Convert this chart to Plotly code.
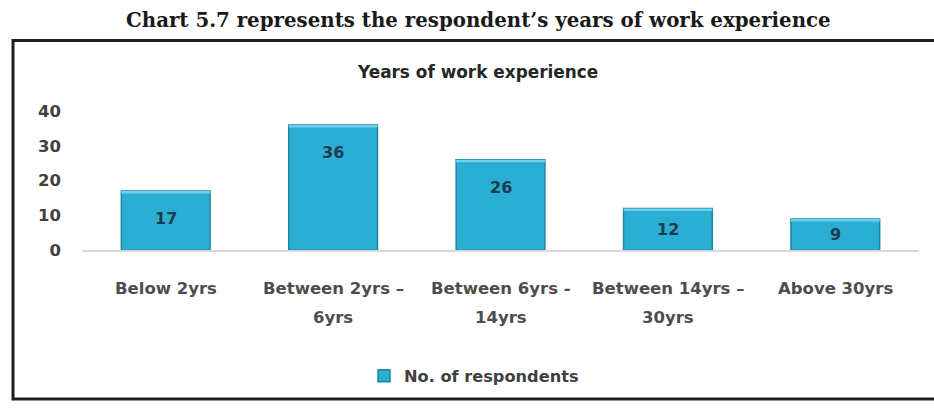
import plotly.graph_objects as go

# Survey data: respondents by years of work experience
categories = [
    "Below 2yrs",
    "Between 2yrs –<br>6yrs",
    "Between 6yrs -<br>14yrs",
    "Between 14yrs –<br>30yrs",
    "Above 30yrs",
]
respondents = [17, 36, 26, 12, 9]
y_ticks = [0, 10, 20, 30, 40]

series_name = "No. of respondents"
chart_title = "Chart 5.7 represents the respondent’s years of work experience"
plot_title = "Years of work experience"

W, H = 934, 410
BAR = "#2aaed3"
EDGE = "#1b86a6"
HIGHLIGHT = "#6dd3ec"
SANS = "'DejaVu Sans', sans-serif"


def px_x(x):
    return x / W


def px_y(y):
    return 1 - y / H


fig = go.Figure()

fig.add_trace(go.Bar(
    x=categories,
    y=respondents,
    name=series_name,
    marker=dict(color=BAR, line=dict(color=EDGE, width=1.5)),
    hoverinfo="x+y",
))

# light bevel along the top of each bar
bevel = [0.7] * len(respondents)
fig.add_trace(go.Bar(
    x=categories,
    y=bevel,
    base=[v - b for v, b in zip(respondents, bevel)],
    marker=dict(color=HIGHLIGHT, line=dict(width=0)),
    showlegend=False,
    hoverinfo="skip",
))

annotations = []

# value labels inside the upper part of each bar
for cat, v in zip(categories, respondents):
    annotations.append(dict(
        x=cat, y=v - min(8, v / 2), xref="x", yref="y",
        text="<b>" + str(v) + "</b>", showarrow=False,
        font=dict(family=SANS, size=16, color="#1d3b4f"),
        xanchor="center", yanchor="middle",
    ))

# category labels, one annotation per line
for cat in categories:
    for i, line in enumerate(cat.split("<br>")):
        annotations.append(dict(
            x=cat, y=px_y(293 + 30 * i), xref="x", yref="paper",
            text="<b>" + line + "</b>", showarrow=False,
            font=dict(family=SANS, size=16.5, color="#4d4d4d"),
            xanchor="center", yanchor="middle",
        ))

annotations.append(dict(
    x=px_x(478), y=px_y(12), xref="paper", yref="paper",
    text="<b>" + chart_title + "</b>", showarrow=False,
    font=dict(family="'DejaVu Serif', serif", size=19.8, color="#1a1a1a"),
    xanchor="center", yanchor="middle",
))
annotations.append(dict(
    x=px_x(477), y=px_y(66), xref="paper", yref="paper",
    text="<b>" + plot_title + "</b>", showarrow=False,
    font=dict(family=SANS, size=16.9, color="#262626"),
    xanchor="center", yanchor="middle",
))

fig.update_layout(
    width=W, height=H,
    margin=dict(l=0, r=0, t=0, b=0),
    paper_bgcolor="white", plot_bgcolor="white",
    barmode="overlay",
    bargap=0.47,
    showlegend=True,
    legend=dict(
        orientation="h", x=px_x(364), y=px_y(385),
        xanchor="left", yanchor="middle",
        font=dict(family=SANS, size=16.2, color="#404040", weight="bold"),
        itemwidth=30,
    ),
    xaxis=dict(
        domain=[px_x(82), px_x(919)],
        showticklabels=False, showgrid=False, zeroline=False,
        showline=True, linecolor="#d9d9d9", linewidth=1.5,
        fixedrange=True,
    ),
    yaxis=dict(
        domain=[px_y(253), px_y(107)],
        range=[0, 40], tickvals=y_ticks,
        showgrid=False, zeroline=False, showline=False,
        ticks="", ticklabelstandoff=20,
        tickfont=dict(family=SANS, size=16.5, color="#404040", weight="bold"),
        fixedrange=True,
    ),
    annotations=annotations,
    shapes=[dict(
        type="rect", xref="paper", yref="paper",
        x0=px_x(13), x1=px_x(940), y0=px_y(409), y1=px_y(33),
        line=dict(color="#1e1e1e", width=3),
    )],
)

fig.write_html("out.html")
